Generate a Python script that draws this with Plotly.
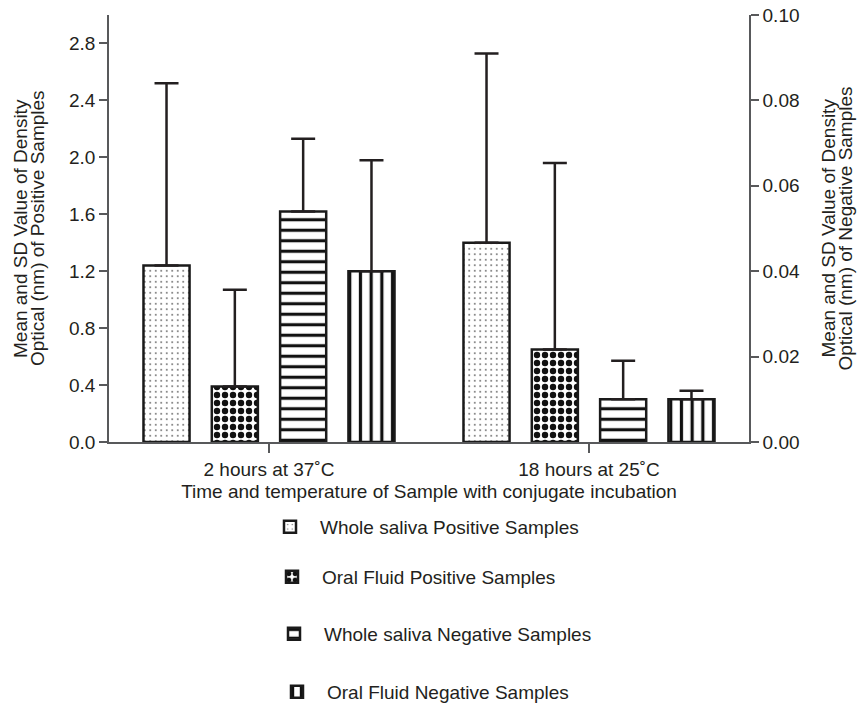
import plotly.graph_objects as go

# ---------------- data ----------------
categories = ["2 hours at 37˚C", "18 hours at 25˚C"]

ws_pos_mean = [1.24, 1.40]
ws_pos_sd = [1.28, 1.33]
of_pos_mean = [0.39, 0.65]
of_pos_sd = [0.68, 1.31]

ws_neg_mean = [0.054, 0.010]
ws_neg_sd = [0.017, 0.009]
of_neg_mean = [0.040, 0.010]
of_neg_sd = [0.026, 0.002]

series_names = [
    "Whole saliva Positive Samples",
    "Oral Fluid Positive Samples",
    "Whole saliva Negative Samples",
    "Oral Fluid Negative Samples",
]

left_ticks = [0.0, 0.4, 0.8, 1.2, 1.6, 2.0, 2.4, 2.8]
right_ticks = [0.00, 0.02, 0.04, 0.06, 0.08, 0.10]

# ---------------- style ----------------
FONT = "Liberation Sans, Arial, Helvetica, sans-serif"
TXT = "#231f20"
AXC = "#58595b"
EDGE = "#1a1a1a"
FS = 19

W, H = 859, 706
ML, MR, MT, MB = 109, 110, 15, 264

BAR_W = 0.144
STEP = 0.2135

styles = [
    dict(shape=".", size=5.5, solidity=0.07, fg="#555555"),
    dict(shape=".", size=8, solidity=0.5, fg="#111111"),
    dict(shape="-", size=10.5, solidity=0.3, fg="#111111"),
    dict(shape="|", size=10.7, solidity=0.3, fg="#111111"),
]

means = [ws_pos_mean, of_pos_mean, ws_neg_mean, of_neg_mean]
sds = [ws_pos_sd, of_pos_sd, ws_neg_sd, of_neg_sd]
axes = ["y", "y", "y2", "y2"]
legend_ids = ["legend", "legend2", "legend3", "legend4"]

fig = go.Figure()
for i in range(4):
    st = styles[i]
    off = (i - 1.5) * STEP - BAR_W / 2
    fig.add_trace(go.Bar(
        x=categories,
        y=means[i],
        name=series_names[i],
        yaxis=axes[i],
        width=[BAR_W] * len(categories),
        offset=[off] * len(categories),
        marker=dict(
            color="white",
            line=dict(color=EDGE, width=2.5),
            pattern=dict(shape=st["shape"], size=st["size"], solidity=st["solidity"],
                         fgcolor=st["fg"], bgcolor="white", fillmode="replace"),
        ),
        error_y=dict(type="data", symmetric=False, array=sds[i],
                     arrayminus=[0] * len(categories),
                     color=TXT, thickness=2.5, width=12),
        legend=legend_ids[i],
        showlegend=True,
    ))

# legends: one per entry so each can sit at its own row
legend_rows = [(260, 527), (262, 577), (264, 634), (267, 692)]
legend_common = dict(
    xref="container", yref="container", xanchor="left", yanchor="middle",
    font=dict(family=FONT, size=FS, color=TXT), itemwidth=50,
    bgcolor="rgba(0,0,0,0)", borderwidth=0,
)
legend_layout = {}
for lid, (lx, ly) in zip(legend_ids, legend_rows):
    d = dict(legend_common)
    d.update(x=lx / W, y=1 - ly / H)
    legend_layout[lid] = d

axis_common = dict(
    showline=True, linecolor=AXC, linewidth=1.5,
    ticks="outside", tickcolor=AXC, tickwidth=1.5,
    showgrid=False, zeroline=False,
    tickfont=dict(family=FONT, size=FS, color=TXT),
    automargin=False,
)

fig.update_layout(
    width=W, height=H, autosize=False,
    margin=dict(l=ML, r=MR, t=MT, b=MB, autoexpand=False),
    paper_bgcolor="white", plot_bgcolor="white",
    barmode="overlay",
    font=dict(family=FONT, size=FS, color=TXT),
    xaxis=dict(
        type="category", range=[-0.5, 1.5], ticklen=9, tickangle=0,
        title=dict(text="Time and temperature of Sample with conjugate incubation",
                   font=dict(family=FONT, size=FS, color=TXT), standoff=6),
        **axis_common,
    ),
    yaxis=dict(
        range=[0, 3.0], tickvals=left_ticks, tickformat=".1f", ticklen=8,
        **axis_common,
    ),
    yaxis2=dict(
        range=[0, 0.10], tickvals=right_ticks, tickformat=".2f", ticklen=8,
        overlaying="y", side="right",
        **axis_common,
    ),
    **legend_layout,
)

# y-axis titles (two lines each, tight leading as in the reference)
title_lines = [
    ("Mean and SD Value of Density", 20.5),
    ("Optical (nm) of Positive Samples", 37.5),
    ("Mean and SD Value of Density", 828),
    ("Optical (nm) of Negative Samples", 845),
]
for txt, px in title_lines:
    fig.add_annotation(
        text=txt, textangle=-90, showarrow=False,
        xref="paper", yref="paper", x=(px - ML) / (W - ML - MR), y=0.5,
        xanchor="center", yanchor="middle",
        font=dict(family=FONT, size=FS, color=TXT),
    )

fig.write_html(
    "out.html",
    config={"displayModeBar": False},
    post_script="document.body.style.margin='0';document.body.style.overflow='hidden';",
)
